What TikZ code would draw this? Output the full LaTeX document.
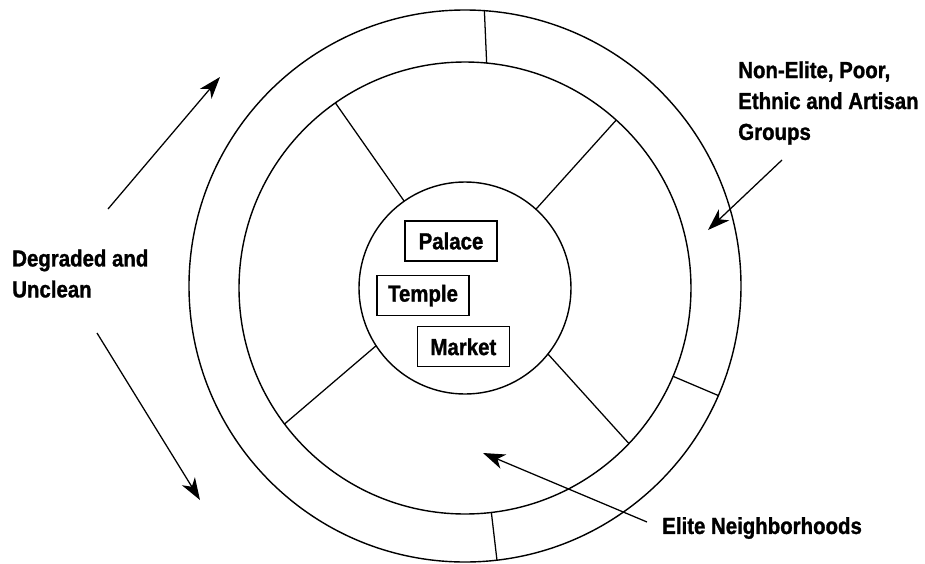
\documentclass[tikz,border=0pt]{standalone}
\usepackage{fontspec}
\setmainfont{Liberation Sans}[FakeStretch=0.88,BoldFeatures={FakeBold=1.2}]
\usetikzlibrary{arrows.meta}

\tikzset{
    ring/.style={line width=1pt},
    spoke/.style={line width=0.9pt},
    pointer/.style={line width=0.9pt,-{Stealth[length=5.5mm,width=3.8mm,inset=1.6mm]}},
    place/.style={draw,line width=0.9pt,minimum width=2.3cm,minimum height=1cm,inner sep=0pt},
    grouptext/.style={anchor=west,align=left,inner sep=0pt}
}

\begin{document}
\begin{tikzpicture}[font=\bfseries\fontsize{16.5}{22}\selectfont]
                    \useasboundingbox (-11.625,-6.875) rectangle (11.5,7.2);

                    % rings
                    \draw[ring] (0,0.05) circle [radius=6.9];
                    \draw[ring] (0,0) circle [radius=5.65];
                    \draw[ring] (0,0) circle [radius=2.65];

                    % spokes of the elite ring
                    \draw[spoke] (125:2.65) -- (125:5.65);
                    \draw[spoke] (48:2.65) -- (48:5.65);
                    \draw[spoke] (213:2.65) -- (217:5.65);
                    \draw[spoke] (-38.5:2.65) -- (-43.5:5.65);

                    % spokes of the outer ring
                    \draw[spoke] (84.5:5.65) -- (86:6.95);
                    \draw[spoke] (-83.3:5.65) -- (-83.3:6.85);
                    \draw[spoke] (-23:5.65) -- (-23:6.88);

                    % centre
                    \node[place] (palace) at (-0.35,1.175) {Palace};
                    \node[place] (temple) at (-1.05,-0.19) {Temple};
                    \node[place] (market) at (-0.04,-1.47) {Market};

                    % labels
                    \node[grouptext] (unclean) at (-11.325,0.36) {Degraded and\\Unclean};
                    \node[grouptext] (nonelite) at (6.825,4.625) {Non-Elite, Poor,\\Ethnic and Artisan\\Groups};
                    \node[grouptext] (elite) at (4.925,-6.0) {Elite Neighborhoods};

                    % arrows
                    \coordinate (up tail) at (-8.925,1.975);
                    \coordinate (up tip) at (-6.125,5.275);
                    \coordinate (down tail) at (-9.2,-1.125);
                    \coordinate (down tip) at (-6.625,-5.3);
                    \coordinate (nonelite tail) at (7.925,3.2);
                    \coordinate (nonelite tip) at (6.075,1.45);
                    \coordinate (elite tail) at (4.55,-5.85);
                    \coordinate (elite tip) at (0.45,-4.125);

                    \draw[pointer] (up tail) -- (up tip);
                    \draw[pointer] (down tail) -- (down tip);
                    \draw[pointer] (nonelite tail) -- (nonelite tip);
                    \draw[pointer] (elite tail) -- (elite tip);
\end{tikzpicture}
\end{document}
